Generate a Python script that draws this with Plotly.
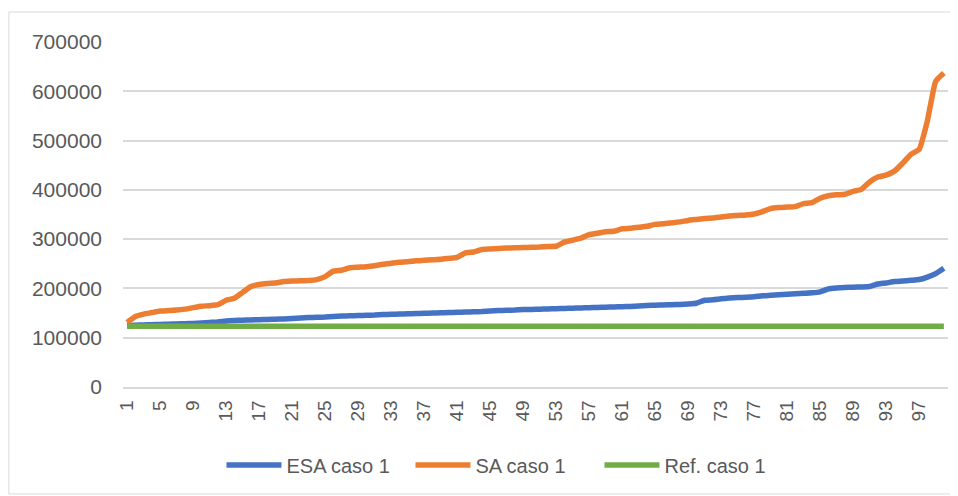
import plotly.graph_objects as go

# x categories 1..100
puntos = list(range(1, 101))

esa_caso1 = [
    125000, 125500, 126000, 126500, 127000, 127500, 128000, 128500, 129000, 130000,
    131000, 132000, 134000, 135000, 135500, 136000, 136500, 137000, 137500, 138000,
    139000, 140000, 141000, 141500, 142000, 143000, 144000, 144500, 145000, 145500,
    146000, 147000, 147500, 148000, 148500, 149000, 149500, 150000, 150500, 151000,
    151500, 152000, 152500, 153000, 154000, 155000, 155500, 156000, 157000, 157500,
    158000, 158500, 159000, 159500, 160000, 160500, 161000, 161500, 162000, 162500,
    163000, 163500, 164500, 165500, 166000, 166500, 167000, 167500, 168500, 170000,
    176000, 177000, 179000, 180500, 181500, 182000, 183000, 185000, 186000, 187000,
    188000, 189000, 190000, 191000, 193000, 199000, 201000, 202000, 202500, 203000,
    204000, 209000, 211000, 214000, 215000, 216500, 218000, 223000, 230000, 241000,
]

sa_caso1 = [
    131000, 143000, 148000, 151000, 154000, 155000, 156000, 158000, 161000, 164000,
    165000, 167000, 176000, 180000, 192000, 204000, 208000, 210000, 211000, 214000,
    215000, 215500, 216000, 218000, 224000, 235000, 237000, 242000, 243000, 244000,
    246000, 249000, 251000, 253000, 254000, 256000, 257000, 258000, 259000, 261000,
    263000, 272000, 274000, 279000, 280000, 281000, 282000, 282500, 283000, 283500,
    284000, 285000, 285500, 294000, 298000, 302000, 309000, 312000, 315000, 316000,
    321000, 322000, 324000, 326000, 330000, 331000, 333000, 335000, 338000, 340000,
    342000, 343000, 345000, 347000, 348000, 349000, 351000, 356000, 362000, 364000,
    365000, 366000, 372000, 374000, 383000, 388000, 390000, 391000, 397000, 401000,
    416000, 426000, 430000, 438000, 454000, 472000, 482000, 540000, 620000, 637000,
]

ref_caso1 = [123500] * 100

y_ticks = [0, 100000, 200000, 300000, 400000, 500000, 600000, 700000]
x_ticks = list(range(1, 101, 4))

series = [
    ("ESA caso 1", esa_caso1, "#4472C4"),
    ("SA caso 1", sa_caso1, "#ED7D31"),
    ("Ref. caso 1", ref_caso1, "#70AD47"),
]

fig = go.Figure()
for name, values, color in series:
    fig.add_trace(go.Scatter(
        x=puntos,
        y=values,
        mode="lines",
        name=name,
        line=dict(color=color, width=5.5, shape="spline", smoothing=0.4),
    ))

# outer chart frame (page body adds an 8px offset, so sizes are reduced by that)
fig.add_shape(
    type="rect", xref="paper", yref="paper",
    x0=-0.1383, x1=1.0098, y0=-0.31, y1=1.087,
    line=dict(color="#d9d9d9", width=1),
)

fig.update_layout(
    width=950,
    height=488,
    plot_bgcolor="white",
    paper_bgcolor="white",
    margin=dict(l=115, r=10, t=34, b=109),
    font=dict(family="Liberation Sans, Arial, sans-serif", color="#595959"),
    showlegend=True,
    legend=dict(
        orientation="h",
        x=0.463, xanchor="center",
        y=-0.226, yanchor="middle",
        font=dict(size=20, color="#595959"),
        itemwidth=55,
        entrywidth=119,
    ),
)

fig.update_xaxes(
    range=[0.5, 100.5],
    tickmode="array",
    tickvals=x_ticks,
    ticktext=[str(v) for v in x_ticks],
    tickangle=-90,
    tickfont=dict(size=19, color="#595959"),
    ticklabelstandoff=4,
    showgrid=False,
    showline=True,
    linecolor="#d9d9d9",
    linewidth=1.5,
    ticks="",
    zeroline=False,
    automargin=False,
)

fig.update_yaxes(
    range=[0, 700000],
    tickmode="array",
    tickvals=y_ticks,
    ticktext=[str(v) for v in y_ticks],
    tickfont=dict(size=21, color="#595959"),
    ticklabelstandoff=20,
    showgrid=True,
    gridcolor="#d9d9d9",
    gridwidth=1.5,
    zeroline=False,
    ticks="",
    automargin=False,
)

fig.write_html("out.html")
